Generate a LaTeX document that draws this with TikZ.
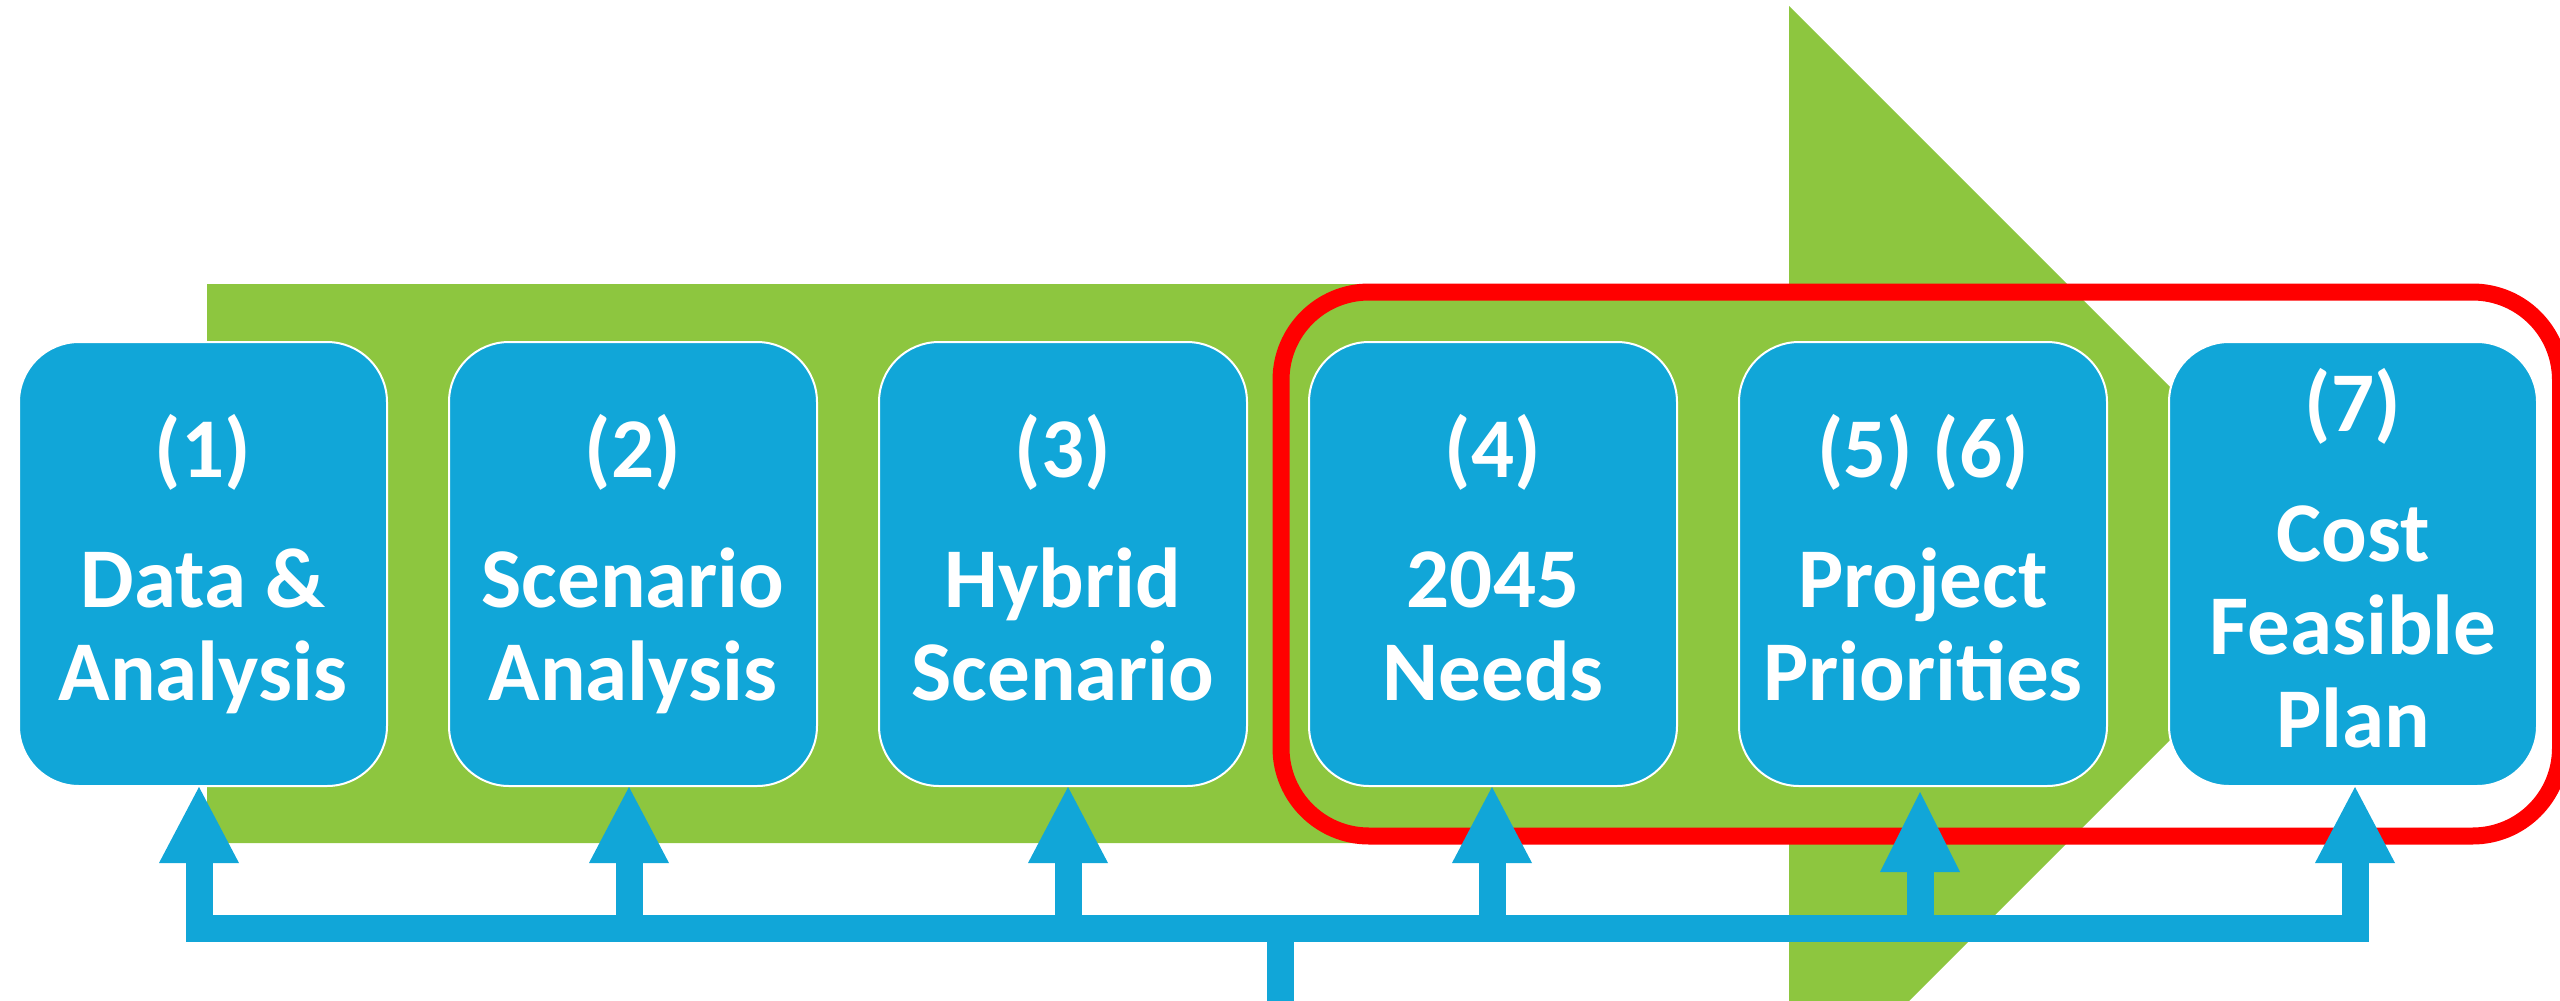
\documentclass[tikz,border=0pt]{standalone}
\usepackage{fontspec}
\setmainfont{Carlito}
\definecolor{blu}{RGB}{17,166,216}
\definecolor{grn}{RGB}{141,198,63}
\begin{document}
\begin{tikzpicture}[x=0.1mm,y=-0.1mm,
  stepbox/.style={rectangle, rounded corners=6mm, minimum width=36.8mm,
    minimum height=44.4mm, fill=blu, draw=white, line width=0.2mm,
    text=white, font=\fontsize{24.2pt}{26.46pt}\selectfont\bfseries,
    align=center, inner sep=0pt},
  conn/.style={draw=blu, line width=2.7mm, line join=miter, line cap=butt},
  tri/.style={fill=blu},
  frame/.style={draw=red, line width=1.7mm, rounded corners=8.8mm}]
\useasboundingbox (0,0) rectangle (2560,1000);
\clip (0,0) rectangle (2560,1000);
% big green arrow
\fill[grn] (207,284) -- (1789,284) -- (1789,6) -- (2346.5,563.5)
  -- (1789,1121) -- (1789,843) -- (207,843) -- cycle;
% red frame
\draw[frame] (1281,292) rectangle (2560.5,836);
% step boxes
\node[stepbox] (b1) at (203,564) {(1)\\[3.7mm]Data \&\\Analysis\vphantom{(}};
\node[stepbox] (b2) at (633,564) {(2)\\[3.7mm]Scenario\\Analysis\vphantom{(}};
\node[stepbox] (b3) at (1063,564) {(3)\\[3.7mm]Hybrid\\Scenario\vphantom{(}};
\node[stepbox] (b4) at (1493,564) {(4)\\[3.7mm]2045\\Needs\vphantom{(}};
\node[stepbox] (b5) at (1923,564) {(5) (6)\\[3.7mm]Project\\Priorities\vphantom{(}};
\node[stepbox] (b7) at (2353,564) {(7)\\[3.7mm]Cost\\Feasible\\Plan\vphantom{(}};
% arrow tips
\coordinate (p1) at ([xshift=-0.4mm]b1.south);
\coordinate (p2) at ([xshift=-0.4mm]b2.south);
\coordinate (p3) at ([xshift=0.5mm]b3.south);
\coordinate (p4) at ([xshift=-0.1mm]b4.south);
\coordinate (p5) at ([xshift=-0.3mm,yshift=-0.5mm]b5.south);
\coordinate (p7) at ([xshift=0.2mm]b7.south);
\coordinate (bar) at (0,928.5);
\coordinate (hub) at (1280,928.5);
\coordinate (src) at (1280,1010);
% connectors
\draw[conn] ([yshift=-7mm]p1) -- (p1 |- bar) -- (p7 |- bar) -- ([yshift=-7mm]p7);
\draw[conn] (p2 |- bar) -- ([yshift=-7mm]p2);
\draw[conn] (p3 |- bar) -- ([yshift=-7mm]p3);
\draw[conn] (p4 |- bar) -- ([yshift=-7mm]p4);
\draw[conn] (p5 |- bar) -- ([yshift=-7mm]p5);
\draw[conn] (src) -- (hub);
\foreach \p in {p1,p2,p3,p4,p7}
  \fill[tri] (\p) -- ++(-40,76) -- ++(80,0) -- cycle;
\fill[tri] (p5) -- ++(-40,80) -- ++(80,0) -- cycle;
\end{tikzpicture}
\end{document}
